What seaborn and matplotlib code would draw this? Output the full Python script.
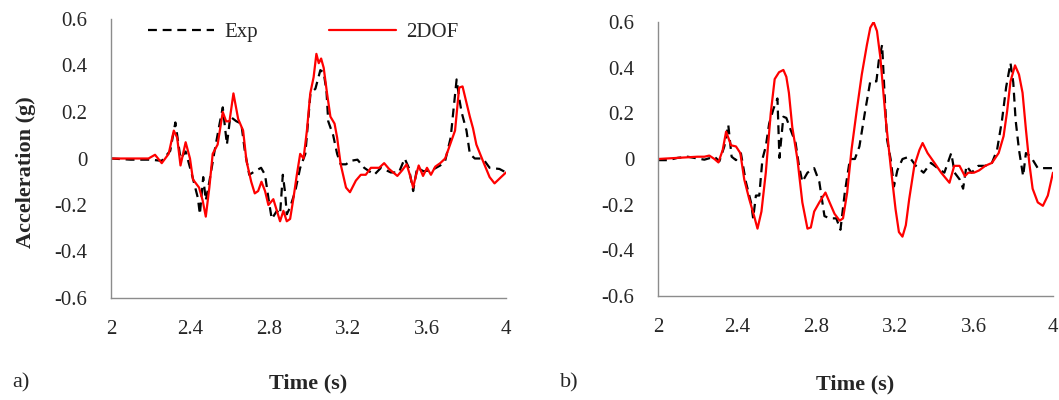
import numpy as np
import pandas as pd
import matplotlib
matplotlib.use("Agg")
import matplotlib.pyplot as plt
import seaborn as sns

# panel a) - experimental record and 2DOF model
t_exp_a = [2.0, 2.1, 2.2, 2.257, 2.3, 2.326, 2.352, 2.378, 2.41, 2.44, 2.45, 2.467, 2.48, 2.498,
           2.524, 2.55, 2.566, 2.587, 2.604, 2.635, 2.66, 2.678, 2.70, 2.728, 2.76, 2.78, 2.797,
           2.814, 2.84, 2.856, 2.87, 2.882, 2.89, 2.907, 2.933, 2.958, 2.984, 3.01, 3.035, 3.06,
           3.077, 3.091, 3.10, 3.125, 3.145, 3.163, 3.19, 3.214, 3.248, 3.282, 3.316, 3.333,
           3.367, 3.417, 3.458, 3.487, 3.508, 3.53, 3.55, 3.583, 3.625, 3.667, 3.692, 3.72,
           3.733, 3.75, 3.763, 3.775, 3.8, 3.817, 3.842, 3.883, 3.917, 3.967, 4.0]
a_exp_a = [0.0, -0.005, -0.005, -0.01, 0.033, 0.155, 0.0, 0.03, -0.07, -0.17, -0.24, -0.08, -0.18, -0.1,
           0.03, 0.15, 0.22, 0.06, 0.18, 0.16, 0.15, 0.03, -0.07, -0.055, -0.04, -0.07, -0.17,
           -0.26, -0.225, -0.24, -0.07, -0.15, -0.24, -0.21, -0.14, -0.04, 0.02, 0.28, 0.30, 0.38,
           0.37, 0.29, 0.16, 0.10, 0.02, -0.025, -0.025, -0.01, -0.005, -0.04, -0.06, -0.07,
           -0.04, -0.06, -0.06, 0.0, -0.04, -0.14, -0.04, -0.055, -0.05, -0.03, -0.01, 0.09,
           0.2, 0.34, 0.26, 0.2, 0.12, 0.02, 0.0, 0.0, -0.04, -0.045, -0.06]

t_dof_a = [2.0, 2.19, 2.223, 2.257, 2.292, 2.318, 2.335, 2.352, 2.378, 2.40, 2.415, 2.446, 2.464,
           2.48, 2.498, 2.515, 2.54, 2.566, 2.583, 2.6, 2.62, 2.644, 2.669, 2.686, 2.71, 2.728,
           2.745, 2.762, 2.78, 2.797, 2.822, 2.84, 2.856, 2.873, 2.89, 2.907, 2.924, 2.941, 2.958,
           2.975, 2.992, 3.009, 3.026, 3.04, 3.052, 3.064, 3.077, 3.094, 3.111, 3.132, 3.145,
           3.163, 3.19, 3.21, 3.24, 3.265, 3.29, 3.316, 3.358, 3.383, 3.408, 3.45, 3.475, 3.497,
           3.513, 3.53, 3.542, 3.558, 3.58, 3.6, 3.62, 3.642, 3.667, 3.692, 3.717, 3.742, 3.763,
           3.78, 3.797, 3.817, 3.833, 3.85, 3.883, 3.917, 3.942, 3.975, 4.0]
a_dof_a = [0.0, 0.0, 0.016, -0.02, 0.02, 0.12, 0.09, -0.03, 0.07, 0.0, -0.09, -0.125, -0.18,
           -0.25, -0.125, 0.02, 0.06, 0.2, 0.16, 0.16, 0.28, 0.17, 0.12, -0.01, -0.1, -0.15,
           -0.14, -0.1, -0.14, -0.2, -0.175, -0.225, -0.27, -0.225, -0.27, -0.26, -0.17, -0.07, 0.02,
           0.0, 0.12, 0.28, 0.35, 0.45, 0.41, 0.43, 0.39, 0.28, 0.18, 0.15, 0.09,
           -0.025, -0.125, -0.145, -0.095, -0.07, -0.07, -0.04, -0.04, -0.02, -0.045, -0.075, -0.05, -0.025,
           -0.07, -0.125, -0.08, -0.03, -0.075, -0.04, -0.07, -0.035, -0.02, 0.0, 0.06, 0.12, 0.305,
           0.31, 0.25, 0.18, 0.13, 0.06, -0.01, -0.08, -0.107, -0.08, -0.06]

# panel b)
t_exp_b = [2.0, 2.05, 2.1, 2.15, 2.235, 2.286, 2.311, 2.336, 2.356, 2.373, 2.395, 2.42, 2.445,
           2.471, 2.482, 2.496, 2.513, 2.529, 2.546, 2.563, 2.585, 2.605, 2.615, 2.635, 2.65,
           2.671, 2.697, 2.714, 2.731, 2.757, 2.791, 2.817, 2.843, 2.869, 2.903, 2.924, 2.946,
           2.972, 2.997, 3.02, 3.049, 3.075, 3.106, 3.118, 3.135, 3.147, 3.16, 3.178, 3.195,
           3.212, 3.238, 3.272, 3.306, 3.345, 3.382, 3.425, 3.45, 3.485, 3.502, 3.528, 3.545,
           3.562, 3.588, 3.622, 3.657, 3.691, 3.717, 3.742, 3.763, 3.785, 3.799, 3.811, 3.828,
           3.849, 3.863, 3.888, 3.923, 3.966, 4.0]
a_exp_b = [-0.005, -0.005, 0.005, 0.01, -0.003, 0.01, -0.01, 0.055, 0.15, 0.01, -0.005, 0.025, -0.1,
           -0.19, -0.26, -0.16, -0.16, 0.0, 0.055, 0.155, 0.22, 0.265, 0.005, 0.185, 0.18,
           0.13, 0.07, -0.03, -0.1, -0.06, -0.04, -0.1, -0.25, -0.26, -0.26, -0.31, -0.147,
           0.0, 0.0, 0.055, 0.21, 0.34, 0.34, 0.43, 0.5, 0.29, 0.085, 0.0, -0.12,
           -0.05, 0.0, 0.01, -0.03, -0.06, -0.017, -0.046, -0.06, 0.026, -0.06, -0.09, -0.13,
           -0.03, -0.06, -0.03, -0.03, -0.017, 0.04, 0.17, 0.315, 0.42, 0.335, 0.17, 0.04,
           -0.075, 0.026, 0.01, -0.04, -0.04, -0.04]

t_dof_b = [2.0, 2.1, 2.2, 2.235, 2.26, 2.286, 2.306, 2.328, 2.345, 2.37, 2.395, 2.417, 2.437,
           2.462, 2.487, 2.504, 2.524, 2.546, 2.571, 2.591, 2.613, 2.635, 2.65, 2.663, 2.68,
           2.706, 2.731, 2.757, 2.774, 2.791, 2.817, 2.848, 2.869, 2.894, 2.92, 2.937, 2.958,
           2.98, 3.006, 3.032, 3.058, 3.075, 3.092, 3.109, 3.126, 3.152, 3.178, 3.203, 3.22,
           3.238, 3.255, 3.272, 3.298, 3.324, 3.34, 3.365, 3.4, 3.434, 3.476, 3.5, 3.527,
           3.554, 3.571, 3.6, 3.626, 3.657, 3.691, 3.725, 3.75, 3.768, 3.785, 3.808, 3.828,
           3.846, 3.863, 3.88, 3.897, 3.923, 3.949, 3.974, 4.0]
a_dof_b = [0.0, 0.005, 0.01, 0.01, 0.015, 0.0, -0.015, 0.04, 0.12, 0.06, 0.055, 0.026, -0.09,
           -0.175, -0.25, -0.305, -0.23, -0.06, 0.2, 0.35, 0.38, 0.39, 0.36, 0.29, 0.14,
           0.0, -0.19, -0.305, -0.3, -0.23, -0.19, -0.147, -0.19, -0.24, -0.27, -0.26, -0.147,
           0.04, 0.21, 0.37, 0.5, 0.575, 0.6, 0.56, 0.445, 0.185, -0.03, -0.22, -0.32,
           -0.34, -0.29, -0.176, -0.03, 0.04, 0.07, 0.026, -0.017, -0.06, -0.104, -0.03, -0.03,
           -0.075, -0.06, -0.06, -0.05, -0.03, -0.017, 0.026, 0.1, 0.21, 0.34, 0.41, 0.37,
           0.29, 0.13, -0.017, -0.13, -0.19, -0.205, -0.16, -0.06]

x_ticks = [2, 2.4, 2.8, 3.2, 3.6, 4]
x_ticklabels = ["2", "2.4", "2.8", "3.2", "3.6", "4"]
y_ticks = [-0.6, -0.4, -0.2, 0, 0.2, 0.4, 0.6]
y_ticklabels = ["-0.6", "-0.4", "-0.2", "0", "0.2", "0.4", "0.6"]

sns.set_style("white")
plt.rcParams["font.family"] = ["Liberation Serif", "DejaVu Serif"]

fig = plt.figure(figsize=(10.59, 4), dpi=100)
ax1 = fig.add_axes([0.1048, 0.255, 0.373, 0.6975])
ax2 = fig.add_axes([0.6213, 0.26, 0.373, 0.685])

panels = [(ax1, t_exp_a, a_exp_a, t_dof_a, a_dof_a, -0.272),
          (ax2, t_exp_b, a_exp_b, t_dof_b, a_dof_b, -0.285)]

for ax, te, ae, td, ad, xlab_y in panels:
    exp_df = pd.DataFrame({"t": te, "a": ae})
    dof_df = pd.DataFrame({"t": td, "a": ad})
    sns.lineplot(data=exp_df, x="t", y="a", ax=ax, color="black", lw=1.6,
                 linestyle=(0, (4, 2.6)), label="Exp")
    sns.lineplot(data=dof_df, x="t", y="a", ax=ax, color="#ff0000", lw=1.6, label="2DOF")
    ax.set_xlim(2, 4)
    ax.set_ylim(-0.6, 0.6)
    ax.set_xticks(x_ticks)
    ax.set_xticklabels(x_ticklabels)
    ax.set_yticks(y_ticks)
    ax.set_yticklabels(y_ticklabels)
    ax.tick_params(axis="both", direction="in", length=5, width=1, color="#8c8c8c",
                   labelsize=15)
    ax.tick_params(axis="y", pad=17)
    ax.tick_params(axis="x", pad=16)
    for side in ["top", "right"]:
        ax.spines[side].set_visible(False)
    for side in ["left", "bottom"]:
        ax.spines[side].set_color("#8c8c8c")
        ax.spines[side].set_linewidth(1)
    ax.set_xlabel("Time (s)", fontsize=16, fontweight="bold")
    ax.xaxis.set_label_coords(0.5, xlab_y)
    ax.set_ylabel("")
    ax.legend_.remove()

ax1.set_ylabel("Acceleration (g)", fontsize=16, fontweight="bold")
ax1.yaxis.set_label_coords(-0.19, 0.45)

ax1.legend(loc="upper left", bbox_to_anchor=(0.045, 1.055), ncol=2, frameon=False,
           fontsize=15, handlelength=3.2, columnspacing=3.4, handletextpad=0.5)

fig.text(12 / 1059, 1 - 383 / 400, "a)", fontsize=16, va="center", ha="left")
fig.text(560 / 1059, 1 - 383 / 400, "b)", fontsize=16, va="center", ha="left")

plt.savefig("out.png", dpi=100)
